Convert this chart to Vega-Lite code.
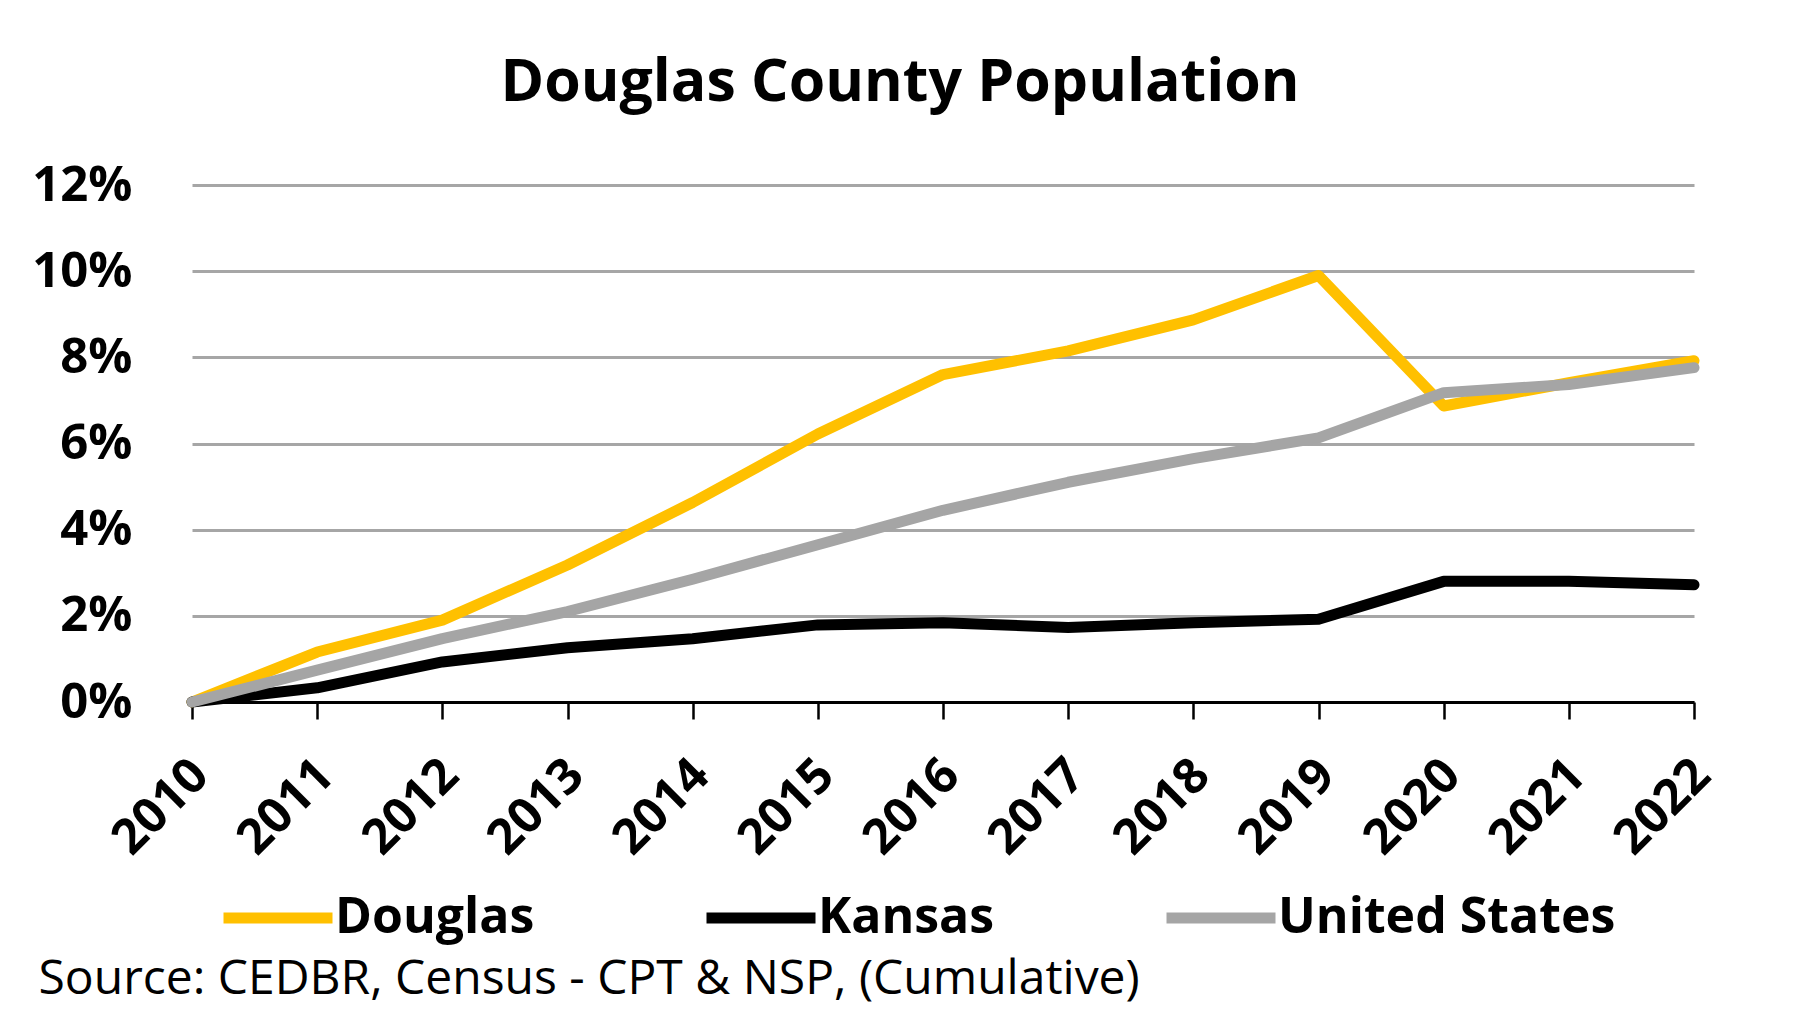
{
  "$schema": "https://vega.github.io/schema/vega-lite/v6.json",
  "width": 1502,
  "height": 517,
  "autosize": "none",
  "padding": {"left": 192, "top": 185, "right": 107, "bottom": 324},
  "background": "white",
  "config": {"view": {"stroke": null}, "font": "Open Sans"},
  "title": {
    "text": "Douglas County Population",
    "font": "Open Sans",
    "fontSize": 59,
    "fontWeight": "bold",
    "color": "#000000",
    "anchor": "middle",
    "frame": "group",
    "dx": -43,
    "offset": 1,
    "baseline": "alphabetic"
  },
  "data": {
    "values": [
      {"Year": "2010", "Series": "Douglas", "Value": 0.0},
      {"Year": "2011", "Series": "Douglas", "Value": 0.0116},
      {"Year": "2012", "Series": "Douglas", "Value": 0.0190},
      {"Year": "2013", "Series": "Douglas", "Value": 0.0318},
      {"Year": "2014", "Series": "Douglas", "Value": 0.0463},
      {"Year": "2015", "Series": "Douglas", "Value": 0.0622},
      {"Year": "2016", "Series": "Douglas", "Value": 0.0760},
      {"Year": "2017", "Series": "Douglas", "Value": 0.0815},
      {"Year": "2018", "Series": "Douglas", "Value": 0.0887},
      {"Year": "2019", "Series": "Douglas", "Value": 0.0990},
      {"Year": "2020", "Series": "Douglas", "Value": 0.0687},
      {"Year": "2021", "Series": "Douglas", "Value": 0.0741},
      {"Year": "2022", "Series": "Douglas", "Value": 0.0792},
      {"Year": "2010", "Series": "Kansas", "Value": 0.0},
      {"Year": "2011", "Series": "Kansas", "Value": 0.0033},
      {"Year": "2012", "Series": "Kansas", "Value": 0.0093},
      {"Year": "2013", "Series": "Kansas", "Value": 0.0126},
      {"Year": "2014", "Series": "Kansas", "Value": 0.0147},
      {"Year": "2015", "Series": "Kansas", "Value": 0.0179},
      {"Year": "2016", "Series": "Kansas", "Value": 0.0184},
      {"Year": "2017", "Series": "Kansas", "Value": 0.0173},
      {"Year": "2018", "Series": "Kansas", "Value": 0.0184},
      {"Year": "2019", "Series": "Kansas", "Value": 0.0192},
      {"Year": "2020", "Series": "Kansas", "Value": 0.0280},
      {"Year": "2021", "Series": "Kansas", "Value": 0.0280},
      {"Year": "2022", "Series": "Kansas", "Value": 0.0272},
      {"Year": "2010", "Series": "United States", "Value": 0.0},
      {"Year": "2011", "Series": "United States", "Value": 0.0074},
      {"Year": "2012", "Series": "United States", "Value": 0.0147},
      {"Year": "2013", "Series": "United States", "Value": 0.0210},
      {"Year": "2014", "Series": "United States", "Value": 0.0285},
      {"Year": "2015", "Series": "United States", "Value": 0.0365},
      {"Year": "2016", "Series": "United States", "Value": 0.0445},
      {"Year": "2017", "Series": "United States", "Value": 0.0510},
      {"Year": "2018", "Series": "United States", "Value": 0.0565},
      {"Year": "2019", "Series": "United States", "Value": 0.0613},
      {"Year": "2020", "Series": "United States", "Value": 0.0718},
      {"Year": "2021", "Series": "United States", "Value": 0.0737},
      {"Year": "2022", "Series": "United States", "Value": 0.0776}
    ]
  },
  "mark": {"type": "line", "strokeWidth": 11, "strokeCap": "round", "strokeJoin": "round"},
  "encoding": {
    "x": {
      "field": "Year",
      "type": "ordinal",
      "scale": {"type": "point", "padding": 0},
      "axis": {
        "title": "Source: CEDBR, Census - CPT & NSP, (Cumulative)",
        "titleFont": "Open Sans",
        "titleFontSize": 48,
        "titleFontWeight": "normal",
        "titleColor": "#000000",
        "titleAnchor": "start",
        "titleAlign": "left",
        "titleBaseline": "alphabetic",
        "titleX": -154,
        "titleY": 291,
        "labelAngle": -45,
        "labelAlign": "right",
        "labelBaseline": "middle",
        "labelFont": "Open Sans",
        "labelFontSize": 49,
        "labelFontWeight": "bold",
        "labelColor": "#000000",
        "labelPadding": 48,
        "labelOffset": 8,
        "domainColor": "#000000",
        "domainWidth": 3,
        "tickColor": "#000000",
        "tickWidth": 2.5,
        "tickSize": 17,
        "grid": false
      }
    },
    "y": {
      "field": "Value",
      "type": "quantitative",
      "scale": {"domain": [0, 0.12]},
      "axis": {
        "title": null,
        "values": [0, 0.02, 0.04, 0.06, 0.08, 0.1, 0.12],
        "format": ".0%",
        "domain": false,
        "ticks": false,
        "labelPadding": 60,
        "labelFont": "Open Sans",
        "labelFontSize": 49,
        "labelFontWeight": "bold",
        "labelColor": "#000000",
        "gridColor": "#A6A6A6",
        "gridWidth": 3
      }
    },
    "color": {
      "field": "Series",
      "type": "nominal",
      "scale": {"domain": ["Douglas", "Kansas", "United States"], "range": ["#FFC000", "#000000", "#A5A5A5"]},
      "legend": {
        "title": null,
        "orient": "none",
        "direction": "horizontal",
        "legendX": 26,
        "legendY": 673,
        "symbolType": "stroke",
        "symbolSize": 11881,
        "symbolStrokeWidth": 11,
        "labelFont": "Open Sans",
        "labelFontSize": 50,
        "labelFontWeight": "bold",
        "labelColor": "#000000",
        "labelLimit": 1000,
        "labelOffset": -3,
        "columnPadding": 149
      }
    }
  }
}
